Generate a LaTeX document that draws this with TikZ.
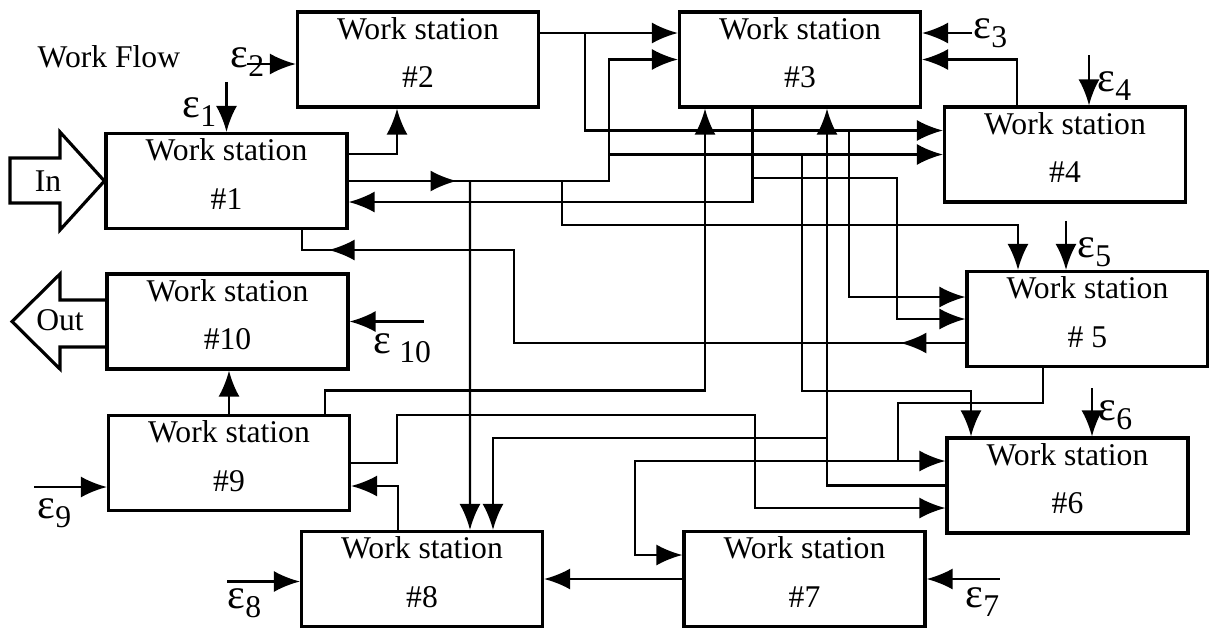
\documentclass[tikz,border=0pt]{standalone}
\usepackage{fontspec}
\setmainfont{Liberation Serif}
\usepackage{tikz}
\usetikzlibrary{arrows.meta,calc,decorations.markings}
\newcommand{\epsl}[1]{{\fontsize{12}{12}\selectfont ε}\raisebox{-2.8pt}{#1}}

\begin{document}
\begin{tikzpicture}[
    station/.style={draw, line width=0.9pt, minimum width=2.41cm, minimum height=0.95cm, align=center, inner sep=0pt, font=\fontsize{9}{13.7}\selectfont, text depth=4pt},
    flow/.style={-{Latex[length=2.6mm,width=2.1mm]}, line width=0.7pt},
    wire/.style={line width=0.7pt},
    midtip/.style={postaction={decorate, decoration={markings, mark=at position #1 with {\arrow{Latex[length=2.6mm,width=2.1mm]}}}}},
    bigarrow/.style={draw, line width=0.9pt, line join=miter},
    lab/.style={font=\fontsize{9}{10}\selectfont, inner sep=0pt},
    eps/.style={font=\fontsize{9}{10}\selectfont, anchor=base west, inner sep=0pt}
  ]
    \useasboundingbox (0,0) rectangle (12.09,6.28);

    \node[lab, anchor=base west] (title) at (0.37,5.61) {Work Flow};

    \node[station] (ws1) at (2.265,4.47) {Work station\\\#1};
    \node[station] (ws2) at (4.18,5.685) {Work station\\\#2};
    \node[station] (ws3) at (8.0,5.685) {Work station\\\#3};
    \node[station] (ws4) at (10.65,4.735) {Work station\\\#4};
    \node[station] (ws5) at (10.875,3.09) {Work station\\\# 5};
    \node[station] (ws6) at (10.675,1.425) {Work station\\\#6};
    \node[station] (ws7) at (8.045,0.49) {Work station\\\#7};
    \node[station] (ws8) at (4.22,0.49) {Work station\\\#8};
    \node[station] (ws9) at (2.29,1.65) {Work station\\\#9};
    \node[station] (ws10) at (2.275,3.065) {Work station\\\#10};

    % in / out
    \draw[bigarrow] (0.10,4.70) -- (0.60,4.70) -- (0.60,4.96) -- (ws1.west) -- (0.60,3.98) -- (0.60,4.25) -- (0.10,4.25) -- cycle;
    \node[lab] (in) at (0.48,4.47) {In};
    \draw[bigarrow] ($(ws10.west)+(0,0.215)$) -- (0.60,3.28) -- (0.60,3.54) -- (0.12,3.065) -- (0.60,2.59) -- (0.60,2.81) -- ($(ws10.west)+(0,-0.255)$);
    \node[lab] (out) at (0.60,3.08) {Out};

    % disturbances
    \node[eps] (e1) at (1.82,5.11) {\epsl{1}};
    \node[eps] (e2) at (2.30,5.61) {\epsl{2}};
    \node[eps] (e3) at (9.73,5.90) {\epsl{3}};
    \node[eps] (e4) at (10.97,5.37) {\epsl{4}};
    \node[eps] (e5) at (10.77,3.71) {\epsl{5}};
    \node[eps] (e6) at (10.98,2.08) {\epsl{6}};
    \node[eps] (e7) at (9.65,0.21) {\epsl{7}};
    \node[eps] (e8) at (2.27,0.20) {\epsl{8}};
    \node[eps] (e9) at (0.37,1.10) {\epsl{9}};
    \node[eps] (e10) at (3.73,2.75) {\epsl{~10}};

    \draw[flow] ($(ws1.north)+(0,0.5)$) -- (ws1.north);
    \draw[flow] ($(ws2.west)+(-0.49,-0.045)$) -- ($(ws2.west)+(0,-0.045)$);
    \draw[flow] ($(ws3.east)+(0.5,0.265)$) -- ($(ws3.east)+(0,0.265)$);
    \draw[flow] ($(ws4.north)+(0.24,0.5)$) -- ($(ws4.north)+(0.24,0)$);
    \draw[flow] ($(ws5.north)+(-0.215,0.49)$) -- ($(ws5.north)+(-0.215,0)$);
    \draw[flow] ($(ws6.north)+(0.245,0.48)$) -- ($(ws6.north)+(0.245,0)$);
    \draw[flow] ($(ws7.east)+(0.73,0)$) -- (ws7.east);
    \draw[flow] ($(ws8.west)+(-0.725,-0.025)$) -- ($(ws8.west)+(0,-0.025)$);
    \draw[flow] ($(ws9.west)+(-0.725,-0.24)$) -- ($(ws9.west)+(0,-0.24)$);
    \draw[flow] ($(ws10.east)+(0.74,0)$) -- (ws10.east);

    % station 1
    \draw[flow, midtip=1.08cm] (ws1.east) -- (6.09,0 |- ws1.east) |- (ws3.west);
    \draw[flow] ($(ws1.east)+(0,0.27)$) -| ($(ws2.south)+(-0.21,0)$);
    \draw[flow] (6.09,0 |- ws4.west) -- (ws4.west);
    \draw[flow] (4.70,0 |- ws1.east) -- ($(ws8.north)+(0.48,0)$);
    \draw[flow] (5.62,0 |- ws1.east) -- (5.62,4.03) -| ($(ws5.north)+(-0.695,0)$);
    \draw[flow] (8.02,0 |- ws4.west) -- (8.02,2.37) -| ($(ws6.north)+(-0.965,0)$);

    % station 2
    \draw[flow] ($(ws2.east)+(0,0.265)$) -- ($(ws3.west)+(0,0.265)$);
    \draw[flow] (5.85,5.95) |- ($(ws4.west)+(0,0.24)$);
    \draw[flow] (8.49,4.975) |- ($(ws5.west)+(0,0.22)$);

    % station 3
    \draw[flow] ($(ws3.south)+(-0.475,0)$) |- ($(ws1.east)+(0,-0.21)$);
    \draw[flow] (7.525,4.50) -| (8.97,0 |- ws5.west) -- (ws5.west);

    % station 4
    \draw[flow] ($(ws4.north)+(-0.48,0)$) |- (ws3.east);

    % station 5
    \draw[wire, midtip=0.65cm, midtip=-0.465cm] ($(ws5.west)+(0,-0.24)$) -| (5.14,3.78) -| ($(ws1.south)+(0.755,0)$);
    \draw[flow] ($(ws5.south)+(-0.445,0)$) |- (8.98,2.25) |- ($(ws6.west)+(0,0.245)$);
    \draw[flow] (8.98,1.67) -- (6.35,1.67) |- ($(ws7.west)+(0,0.24)$);

    % station 6
    \draw[flow] (ws6.west) -| ($(ws3.south)+(0.27,0)$);
    \draw[flow] (8.27,1.90) -| ($(ws8.north)+(0.71,0)$);

    % stations 7, 8, 9
    \draw[flow] (ws7.west) -- (ws8.east);
    \draw[flow] ($(ws8.north)+(-0.24,0)$) |- ($(ws9.east)+(0,-0.23)$);
    \draw[flow] (ws9.north) -- (ws9.north |- ws10.south);
    \draw[flow] ($(ws9.north)+(0.96,0)$) -- ++(0,0.235) -| ($(ws3.south)+(-0.95,0)$);
    \draw[flow] (ws9.east) -| (3.97,2.13) -| (7.55,1.20) -- ($(ws6.west)+(0,-0.225)$);
  \end{tikzpicture}
\end{document}
